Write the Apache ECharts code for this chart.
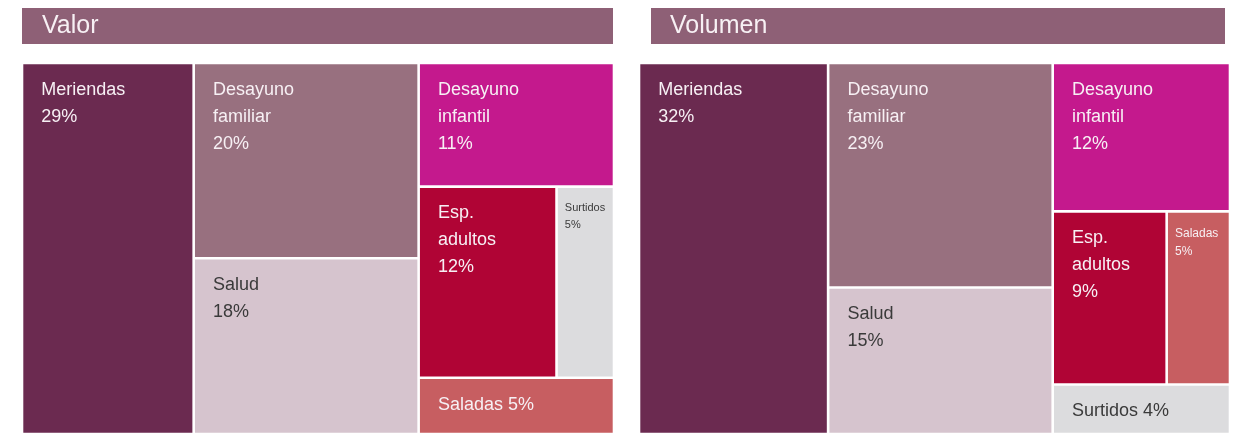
<!DOCTYPE html>
<html>
<head>
<meta charset="utf-8">
<script src="https://cdn.jsdelivr.net/npm/echarts@6/dist/echarts.min.js"></script>
<style>
  html, body { margin: 0; padding: 0; background: #ffffff; }
  #chart { width: 1239px; height: 434px; }
</style>
</head>
<body>
<div id="chart"></div>
<script>
// Cuota de mercado por segmento (%)
const categorias = ['Meriendas', 'Desayuno familiar', 'Salud', 'Desayuno infantil', 'Esp. adultos', 'Surtidos', 'Saladas'];
const cuotaValor = [29, 20, 18, 11, 12, 5, 5];
const cuotaVolumen = [32, 23, 15, 12, 9, 4, 5];
const titulos = ['Valor', 'Volumen'];

// Colour per segment and whether its label uses dark text
const colores = ['#6b2a50', '#98707f', '#d6c4ce', '#c4198d', '#b00435', '#dcdcde', '#c75e61'];
const textoOscuro = [false, false, true, false, false, true, false];

// Arrangement of segments: columns, each stacked top to bottom; nested arrays sit side by side
const disposicionValor = [[0], [1, 2], [3, [4, 5], 6]];
const disposicionVolumen = [[0], [1, 2], [3, [4, 6], 5]];

function suma(nodo, vals) {
  if (Array.isArray(nodo)) return nodo.reduce((s, n) => s + suma(n, vals), 0);
  return vals[nodo];
}

// Slice-and-dice layout in 0..100 units of the grid, areas proportional to share
function distribuir(columnas, vals) {
  const total = suma(columnas, vals);
  const rects = [];
  let x = 0;
  columnas.forEach(col => {
    const sc = suma(col, vals);
    const w = sc / total * 100;
    let y = 0;
    col.forEach(item => {
      const si = suma(item, vals);
      const h = si / sc * 100;
      if (Array.isArray(item)) {
        let xx = x;
        item.forEach(idx => {
          const ww = vals[idx] / si * w;
          rects.push([xx, y, xx + ww, y + h, idx, vals[idx]]);
          xx += ww;
        });
      } else {
        rects.push([x, y, x + w, y + h, item, vals[item]]);
      }
      y += h;
    });
    x += w;
  });
  return rects;
}

const FUENTE = '"Liberation Sans", Arial, Helvetica, sans-serif';
const GAP = 1.3;
const TAM = 18;

// Width of the widest line of a label at a given size
const medidor = document.createElement('canvas').getContext('2d');
function anchoTexto(texto, tam) {
  medidor.font = tam + 'px ' + FUENTE;
  return Math.max.apply(null, texto.split('\n').map(l => medidor.measureText(l).width));
}

function renderCelda(params, api) {
  const p0 = api.coord([api.value(0), api.value(1)]);
  const p1 = api.coord([api.value(2), api.value(3)]);
  const idx = api.value(4);
  const pct = api.value(5);
  const left = Math.min(p0[0], p1[0]) + GAP;
  const top = Math.min(p0[1], p1[1]) + GAP;
  const w = Math.abs(p1[0] - p0[0]) - 2 * GAP;
  const h = Math.abs(p1[1] - p0[1]) - 2 * GAP;
  const nombre = categorias[idx];
  const texto = h > 80
    ? nombre.split(' ').join('\n') + '\n' + pct + '%'
    : nombre + ' ' + pct + '%';

  // Narrow cells: tighter padding, then shrink the type until the label fits
  let pad = 18;
  let tam = TAM;
  const ancho = anchoTexto(texto, TAM);
  if (ancho > w - 2 * pad) {
    pad = 7;
    if (ancho > w - 2 * pad) tam = Math.max(10, Math.floor(TAM * (w - 2 * pad) / ancho));
  }

  return {
    type: 'group',
    children: [
      {
        type: 'rect',
        shape: { x: left, y: top, width: w, height: h },
        style: { fill: colores[idx] }
      },
      {
        type: 'text',
        style: {
          text: texto,
          x: left + pad,
          y: top + 12,
          align: 'left',
          verticalAlign: 'top',
          fill: textoOscuro[idx] ? '#3a3a3a' : '#f7f0f4',
          font: tam + 'px ' + FUENTE,
          lineHeight: Math.round(tam * 1.5)
        }
      }
    ]
  };
}

const paneles = [
  { vals: cuotaValor, disp: disposicionValor, grid: { left: 22, top: 63, width: 592, height: 373 } },
  { vals: cuotaVolumen, disp: disposicionVolumen, grid: { left: 639, top: 63, width: 591, height: 373 } }
];

const cabeceras = [
  { x: 22, width: 591, textX: 42 },
  { x: 651, width: 574, textX: 670 }
];

const option = {
  animation: false,
  backgroundColor: '#ffffff',
  grid: paneles.map(p => p.grid),
  xAxis: paneles.map((p, i) => ({ type: 'value', gridIndex: i, min: 0, max: 100, show: false })),
  yAxis: paneles.map((p, i) => ({ type: 'value', gridIndex: i, min: 0, max: 100, inverse: true, show: false })),
  series: paneles.map((p, i) => ({
    type: 'custom',
    xAxisIndex: i,
    yAxisIndex: i,
    renderItem: renderCelda,
    encode: { x: [0, 2], y: [1, 3] },
    data: distribuir(p.disp, p.vals)
  })),
  graphic: cabeceras.map((c, i) => ({
    type: 'group',
    children: [
      { type: 'rect', shape: { x: c.x, y: 8, width: c.width, height: 36 }, style: { fill: '#8e6076' } },
      {
        type: 'text',
        style: {
          text: titulos[i], x: c.textX, y: 26, align: 'left', verticalAlign: 'middle',
          fill: '#f7f0f4', font: '25px ' + FUENTE
        }
      }
    ]
  }))
};

echarts.init(document.getElementById('chart'), null, { renderer: 'canvas' }).setOption(option);
</script>
</body>
</html>
